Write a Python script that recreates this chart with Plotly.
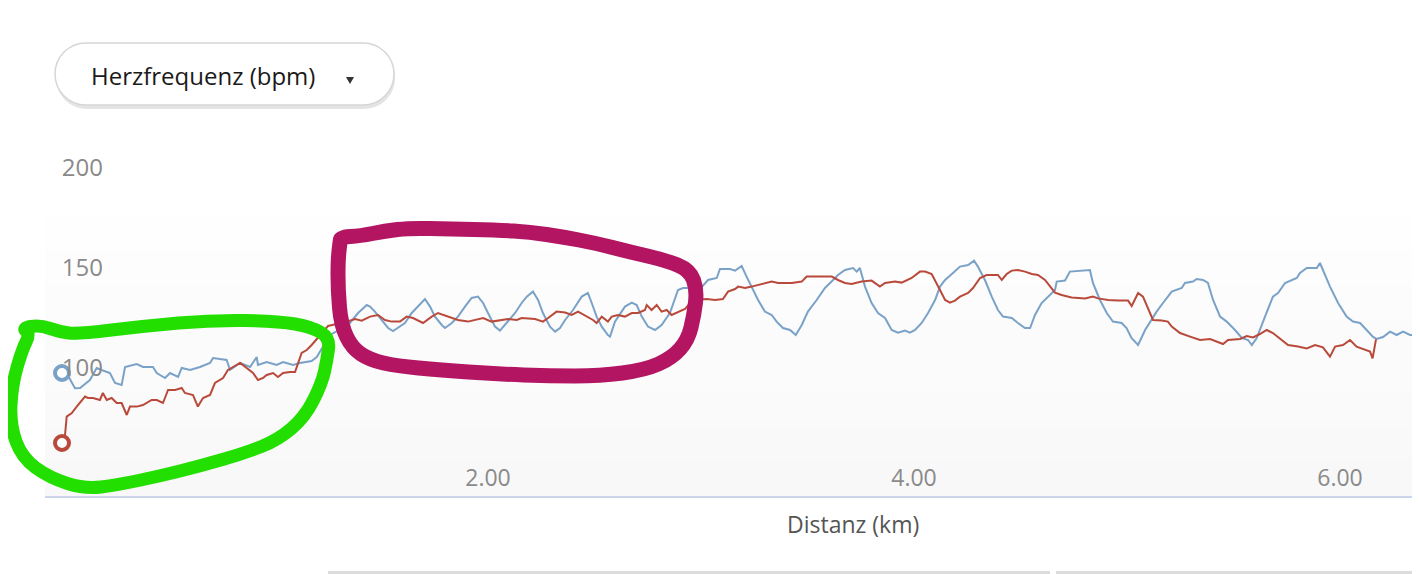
import plotly.graph_objects as go

# the page body has an 8px margin, so the figure is 8px smaller and
# every pixel position below is given in page coordinates
OFF = 8
W, H = 1420 - OFF, 574 - OFF

# Herzfrequenz über Distanz, zwei Läufe
blue_km = [0, 0.022, 0.061, 0.085, 0.131, 0.163, 0.186, 0.225, 0.249, 0.280,
           0.296, 0.351, 0.380, 0.427, 0.445, 0.484, 0.507, 0.545, 0.562, 0.601,
           0.648, 0.695, 0.709, 0.773, 0.789, 0.836, 0.883, 0.914, 0.920, 0.961,
           1.008, 1.038, 1.085, 1.117, 1.172, 1.196, 1.258, 1.329, 1.352, 1.390,
           1.431, 1.446, 1.469, 1.501, 1.531, 1.554, 1.577, 1.610, 1.642, 1.671,
           1.704, 1.728, 1.751, 1.783, 1.798, 1.830, 1.859, 1.892, 1.923, 1.953,
           1.977, 2.000, 2.033, 2.056, 2.088, 2.127, 2.158, 2.182, 2.211, 2.235,
           2.258, 2.291, 2.315, 2.338, 2.362, 2.399, 2.440, 2.469, 2.487, 2.510,
           2.534, 2.563, 2.573, 2.596, 2.643, 2.675, 2.698, 2.722, 2.751, 2.784,
           2.815, 2.854, 2.892, 2.915, 2.962, 2.995, 3.033, 3.074, 3.089, 3.136,
           3.160, 3.191, 3.214, 3.238, 3.268, 3.300, 3.332, 3.355, 3.385, 3.418,
           3.445, 3.473, 3.502, 3.543, 3.582, 3.620, 3.643, 3.676, 3.714, 3.731,
           3.746, 3.770, 3.801, 3.831, 3.864, 3.895, 3.925, 3.958, 3.981, 4.005,
           4.036, 4.066, 4.099, 4.122, 4.146, 4.183, 4.216, 4.254, 4.282, 4.300,
           4.333, 4.365, 4.394, 4.418, 4.459, 4.488, 4.521, 4.545, 4.568, 4.599,
           4.629, 4.662, 4.670, 4.709, 4.732, 4.803, 4.826, 4.840, 4.873, 4.905,
           4.934, 4.975, 4.998, 5.021, 5.052, 5.085, 5.122, 5.139, 5.169, 5.210,
           5.257, 5.272, 5.310, 5.327, 5.357, 5.380, 5.404, 5.437, 5.468, 5.507,
           5.539, 5.568, 5.586, 5.609, 5.648, 5.685, 5.709, 5.742, 5.797, 5.812,
           5.844, 5.891, 5.906, 5.920, 5.953, 5.991, 6.031, 6.061, 6.094, 6.125,
           6.155, 6.172, 6.202, 6.235, 6.266, 6.296, 6.329, 6.360, 6.376]
blue_hr = [97.5, 97.4, 89.9, 90, 94, 100, 99, 97.5, 92.5, 91.5,
           100.5, 102, 100.5, 100.5, 97.5, 95, 97.5, 95.5, 100, 99,
           100.5, 102.5, 105, 104, 99, 102.5, 100.5, 105.5, 101.5, 103,
           101.5, 103, 101.5, 102.5, 103.5, 105.5, 116.5, 120.7, 122.5, 127.5,
           131.5, 130.7, 128.2, 124, 120, 118.5, 120, 122.5, 127.5, 130.7,
           134.5, 130.7, 125.7, 121.5, 120, 122.5, 125.7, 130.7, 135, 135.7,
           132.5, 127.5, 120.7, 118.7, 122.5, 127.5, 132.5, 135.7, 138.2, 134,
           127.5, 120.7, 118.2, 120, 124, 129, 135.7, 137.5, 132.5, 125.7,
           120.7, 116.5, 115.7, 123.2, 130.7, 132.7, 131.5, 125.7, 120.7, 119,
           121.5, 127.5, 139, 140, 140, 139.5, 144, 145, 149.5, 149.5,
           148.7, 151, 145.7, 140.7, 134, 128.2, 126.5, 123.2, 120, 119,
           116.5, 121.5, 128.2, 134, 140, 144, 146.5, 149, 150, 148.2,
           150, 140.7, 132.5, 127.5, 125, 119, 117.7, 118.7, 117.7, 119,
           122.5, 127.5, 134, 140.7, 144, 147.5, 150.7, 151.5, 153.7, 150.7,
           144, 135.7, 129, 125.7, 125, 122.5, 120, 120, 126.5, 132.5,
           135.7, 139, 143.2, 143.7, 148.2, 148.7, 149, 142.5, 134, 127.5,
           123.2, 122.5, 120, 115, 111.5, 119, 125.7, 128.2, 132.5, 138.2,
           140, 142.5, 143.2, 144.5, 144, 142.5, 134, 125.7, 123.2, 119,
           115, 114, 111.5, 115, 125.7, 135.7, 137.5, 142.5, 145, 147.5,
           150, 150, 152.5, 149, 140.7, 132.5, 125.7, 123.2, 122.5, 119,
           115.5, 114.5, 115.5, 118.2, 116.5, 118.2, 116.5, 116.5, 115]

red_km = [0, 0.012, 0.022, 0.046, 0.069, 0.108, 0.122, 0.146, 0.178, 0.192,
          0.210, 0.233, 0.257, 0.280, 0.304, 0.319, 0.351, 0.380, 0.421, 0.445,
          0.474, 0.498, 0.531, 0.562, 0.577, 0.615, 0.638, 0.662, 0.695, 0.718,
          0.756, 0.779, 0.803, 0.836, 0.867, 0.897, 0.920, 0.944, 0.961, 0.991,
          1.014, 1.038, 1.070, 1.094, 1.125, 1.149, 1.172, 1.202, 1.249, 1.337,
          1.376, 1.407, 1.446, 1.484, 1.516, 1.548, 1.587, 1.618, 1.648, 1.695,
          1.736, 1.765, 1.812, 1.859, 1.906, 1.939, 1.977, 2.017, 2.056, 2.094,
          2.135, 2.158, 2.221, 2.258, 2.282, 2.322, 2.362, 2.393, 2.423, 2.463,
          2.493, 2.510, 2.534, 2.563, 2.581, 2.610, 2.643, 2.675, 2.704, 2.737,
          2.745, 2.768, 2.792, 2.815, 2.839, 2.862, 2.886, 2.925, 2.962, 3.027,
          3.066, 3.103, 3.127, 3.160, 3.174, 3.207, 3.238, 3.300, 3.332, 3.362,
          3.426, 3.473, 3.496, 3.535, 3.614, 3.643, 3.676, 3.707, 3.754, 3.801,
          3.817, 3.840, 3.864, 3.911, 3.942, 3.989, 4.028, 4.052, 4.083, 4.099,
          4.122, 4.146, 4.169, 4.192, 4.216, 4.254, 4.277, 4.310, 4.341, 4.394,
          4.412, 4.435, 4.459, 4.488, 4.521, 4.553, 4.582, 4.615, 4.638, 4.662,
          4.693, 4.740, 4.803, 4.840, 4.864, 4.911, 4.958, 5.005, 5.022, 5.052,
          5.075, 5.099, 5.122, 5.163, 5.192, 5.210, 5.249, 5.296, 5.343, 5.390,
          5.451, 5.474, 5.531, 5.562, 5.592, 5.624, 5.656, 5.685, 5.726, 5.756,
          5.803, 5.844, 5.883, 5.920, 5.953, 5.977, 6.014, 6.047, 6.078, 6.117,
          6.141, 6.153, 6.169]
red_hr = [62.5, 64, 75.7, 77.5, 80.7, 85.7, 85, 85, 84, 87.5,
          84, 85, 82.5, 82.5, 76.5, 80.7, 80.7, 81.5, 84, 84,
          82.5, 89, 89, 90, 87.5, 86.5, 80.7, 85, 86.5, 92.5,
          95, 99, 100.5, 102.5, 100, 97.5, 94, 95, 96.5, 97.5,
          95.5, 97.5, 98, 98, 107.5, 109, 111.5, 115, 121, 123.2,
          124.5, 123.7, 125.7, 126.5, 124, 123.2, 123.2, 125.7, 125, 122.5,
          125.7, 127.5, 125.7, 124, 123.2, 124, 125, 123.2, 123.7, 124.5,
          124, 125, 124.5, 123.2, 125, 128.2, 127.7, 126.5, 128.2, 125.7,
          124, 122.5, 125.7, 123.2, 125.7, 126.5, 125.7, 127.5, 127.5, 129,
          131.5, 129, 131.5, 128.2, 129, 126.5, 127.5, 129.5, 134, 134.5,
          134, 134.5, 138.2, 139.5, 140.7, 140, 140.7, 142.5, 143.2, 142.5,
          142.5, 143.2, 145.7, 145.7, 145.7, 144, 142.5, 142, 143.2, 143.7,
          142.5, 140.7, 142.5, 143.2, 142.7, 145, 148.2, 148.2, 147, 144,
          139, 134, 132.7, 133.7, 135.7, 137.5, 140, 145, 146.5, 146.5,
          144, 147, 148.7, 149, 148.2, 147, 146.5, 144, 140.7, 137.7,
          136.5, 135.3, 134.8, 135.7, 134.8, 134, 133.7, 133.7, 131, 137.5,
          135.7, 130, 124, 123.7, 123.2, 120.7, 117.5, 115.7, 114, 114.5,
          112, 114, 114.5, 116, 115.3, 117, 119, 117.5, 114, 111.5,
          110.7, 109.8, 111.5, 110.3, 105.7, 110.7, 111.5, 114, 110.7, 109,
          108.2, 104.8, 114.3]

y_ticks = [50, 100, 150, 200]
x_ticks = [2, 4, 6]

BLUE = '#7aa2c8'
RED = '#b9493a'


def fx(x):
    return (x - OFF) / W


def fy(y):
    return 1 - (y - OFF) / H


def pt(x, y):
    return f"{fx(x):.5f},{fy(y):.5f}"


def pill_path(x0, y0, x1, y1):
    r = (y1 - y0) / 2
    k = 0.5523 * r
    cy = y0 + r
    return (f"M{pt(x0 + r, y0)} L{pt(x1 - r, y0)} "
            f"C{pt(x1 - r + k, y0)} {pt(x1, cy - k)} {pt(x1, cy)} "
            f"C{pt(x1, cy + k)} {pt(x1 - r + k, y1)} {pt(x1 - r, y1)} "
            f"L{pt(x0 + r, y1)} "
            f"C{pt(x0 + r - k, y1)} {pt(x0, cy + k)} {pt(x0, cy)} "
            f"C{pt(x0, cy - k)} {pt(x0 + r - k, y0)} {pt(x0 + r, y0)} Z")


def loop_path(pts):
    n = len(pts)
    mid = lambda a, b: ((a[0] + b[0]) / 2, (a[1] + b[1]) / 2)
    s = mid(pts[-1], pts[0])
    path = f"M{pt(*s)}"
    for i in range(n):
        m = mid(pts[i], pts[(i + 1) % n])
        path += f" Q{pt(*pts[i])} {pt(*m)}"
    return path + " Z"


fig = go.Figure()

fig.add_trace(go.Scatter(x=blue_km, y=blue_hr, mode='lines',
                         line=dict(color=BLUE, width=2)))
fig.add_trace(go.Scatter(x=red_km, y=red_hr, mode='lines',
                         line=dict(color=RED, width=2)))
fig.add_trace(go.Scatter(x=blue_km[:1], y=blue_hr[:1], mode='markers',
                         marker=dict(size=14, color='white', line=dict(color=BLUE, width=4))))
fig.add_trace(go.Scatter(x=red_km[:1], y=red_hr[:1], mode='markers',
                         marker=dict(size=14, color='white', line=dict(color=RED, width=4))))

shapes = []
# leichter Verlauf im Plotbereich
top, bottom, nb = 215, 496, 8
for i in range(nb):
    g = 254 - round(6 * i / (nb - 1))
    y0 = top + (bottom - top) * i / nb
    y1 = top + (bottom - top) * (i + 1) / nb
    shapes.append(dict(type='rect', xref='paper', yref='paper', layer='below',
                       x0=fx(45), x1=1, y0=fy(y1), y1=fy(y0),
                       fillcolor=f'rgb({g},{g},{g})', line=dict(width=0)))

# Dropdown
shapes.append(dict(type='path', xref='paper', yref='paper', path=pill_path(56, 47, 395, 109),
                   fillcolor='#e4e4e4', line=dict(width=0)))
shapes.append(dict(type='path', xref='paper', yref='paper', path=pill_path(55, 43, 394, 105),
                   fillcolor='white', line=dict(color='#d6d6d6', width=1.5)))
shapes.append(dict(type='path', xref='paper', yref='paper',
                   path=f"M{pt(346, 77)} L{pt(354, 77)} L{pt(350, 84)} Z",
                   fillcolor='#333333', line=dict(width=0)))

# Reste der Boxen am unteren Rand
for x0, x1 in [(328, 1050), (1056, 1420)]:
    shapes.append(dict(type='rect', xref='paper', yref='paper',
                       x0=fx(x0), x1=fx(x1), y0=0, y1=3 / H,
                       fillcolor='#dcdcdc', line=dict(width=0)))

# Handmarkierungen
green = [(22, 328), (40, 325), (60, 332), (78, 334), (145, 326), (212, 320), (278, 321),
         (312, 327), (330, 338), (327, 360), (322, 383), (305, 417), (278, 440),
         (245, 453), (200, 466), (160, 476), (117, 485), (85, 489), (50, 478),
         (22, 458), (10, 425), (12, 385), (22, 350), (30, 334)]
magenta = [(341, 237), (360, 236), (385, 231), (410, 228), (450, 229), (497, 230),
           (530, 232), (563, 237), (595, 243), (630, 252), (665, 260), (690, 270),
           (697, 290), (694, 315), (688, 340), (672, 358), (645, 370), (600, 376),
           (550, 376), (497, 374), (440, 370), (397, 366), (370, 360), (352, 348),
           (341, 325), (338, 290), (338, 260), (340, 242)]
shapes.append(dict(type='path', xref='paper', yref='paper', path=loop_path(green),
                   line=dict(color='#23df00', width=13)))
shapes.append(dict(type='path', xref='paper', yref='paper', path=loop_path(magenta),
                   line=dict(color='#b31563', width=15)))

fig.update_layout(
    width=W, height=H,
    margin=dict(l=0, r=0, t=0, b=0),
    paper_bgcolor='white',
    plot_bgcolor='rgba(0,0,0,0)',
    showlegend=False,
    font=dict(family='Open Sans'),
    shapes=shapes,
    annotations=[
        dict(text='Herzfrequenz (bpm)', xref='paper', yref='paper',
             x=fx(89), y=fy(76), xanchor='left', yanchor='middle',
             showarrow=False, font=dict(size=24, color='#1a1a1a')),
        # axis title: the original chart is wider than the screenshot,
        # so its title sits right of the visible centre
        dict(text='Distanz (km)', xref='paper', yref='paper',
             x=fx(853), y=fy(524), xanchor='center', yanchor='middle',
             showarrow=False, font=dict(size=23, color='#555555')),
    ],
    xaxis=dict(
        domain=[fx(45), 1],
        range=[(45 - 62) / 213, (1420 - 62) / 213],
        tickvals=x_ticks, tickformat='.2f',
        ticklabelposition='inside',
        ticklabelstandoff=7,
        tickfont=dict(size=23, color='#8a8a8a'),
        showline=True, linecolor='#ccd6eb', linewidth=2,
        ticks='', showgrid=False, zeroline=False,
        automargin=False,
    ),
    yaxis=dict(
        domain=[fy(496), fy(150)],
        range=[36, 209],
        anchor='free', position=fx(103),
        tickvals=y_ticks,
        tickfont=dict(size=24, color='#8a8a8a'),
        ticks='', showgrid=False, zeroline=False, showline=False,
        automargin=False,
    ),
)

fig.write_html("out.html")
